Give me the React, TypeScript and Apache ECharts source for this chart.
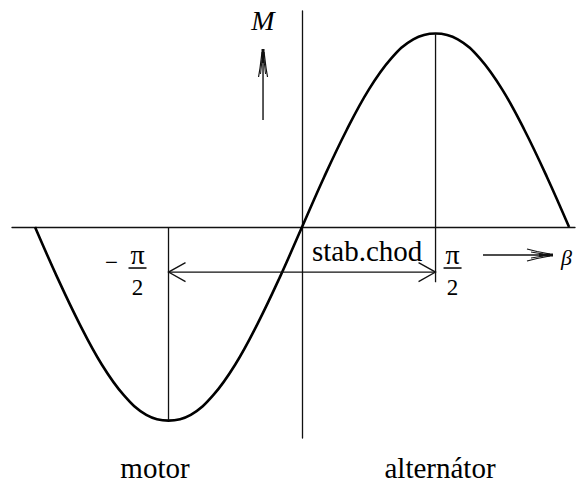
import React, { useEffect, useRef } from "react";
import * as echarts from "echarts";

// Load angle β in degrees and the torque M (normalised to its peak)
const angleDeg = [-180, -165, -150, -135, -120, -105, -90, -75, -60, -45, -30, -15, 0, 15, 30, 45, 60, 75, 90, 105, 120, 135, 150, 165, 180];
const torque = [0, -0.26, -0.5, -0.71, -0.87, -0.97, -1, -0.97, -0.87, -0.71, -0.5, -0.26, 0, 0.26, 0.5, 0.71, 0.87, 0.97, 1, 0.97, 0.87, 0.71, 0.5, 0.26, 0];

// Guide lines at ±π/2 and the stable-operation range arrow
const peakGuideX = [90, 90];
const peakGuideY = [1, -0.285];
const troughGuideX = [-90, -90];
const troughGuideY = [0, -1];
const stableRangeX = [-90, 90];
const stableLevel = -0.233;

const axisMin = { x: -195.5, y: -1.09 };
const axisMax = { x: 184, y: 1.116 };

const INK = "#111";

export default function App() {
  const ref = useRef<HTMLDivElement>(null);

  useEffect(() => {
    if (!ref.current) return;
    const chart = echarts.init(ref.current, undefined, { renderer: "svg" });

    const pair = (xs: number[], ys: number[]) => xs.map((x, i) => [x, ys[i]]);
    const plainLine = (data: number[][], width: number) => ({
      type: "line",
      data,
      symbol: "none",
      silent: true,
      lineStyle: { color: INK, width },
    });

    chart.setOption({
      animation: false,
      backgroundColor: "#fff",
      grid: { left: 12, right: 2, top: 11, bottom: 45 },
      xAxis: {
        type: "value",
        min: axisMin.x,
        max: axisMax.x,
        axisLine: { onZero: true, lineStyle: { color: INK, width: 1.3 } },
        axisTick: { show: false },
        axisLabel: { show: false },
        splitLine: { show: false },
      },
      yAxis: {
        type: "value",
        min: axisMin.y,
        max: axisMax.y,
        axisLine: { show: true, onZero: true, lineStyle: { color: INK, width: 1.3 } },
        axisTick: { show: false },
        axisLabel: { show: false },
        splitLine: { show: false },
      },
      series: [
        {
          type: "line",
          data: pair(angleDeg, torque),
          symbol: "none",
          smooth: 0.4,
          silent: true,
          lineStyle: { color: "#000", width: 2.6 },
        },
        plainLine(pair(peakGuideX, peakGuideY), 1.3),
        plainLine(pair(troughGuideX, troughGuideY), 1.3),
        plainLine(pair(stableRangeX, [stableLevel, stableLevel]), 1.3),
      ],
    });

    // Annotations placed relative to the axis positions
    const px = (x: number, y: number) => chart.convertToPixel({ gridIndex: 0 }, [x, y]) as number[];
    const [lx, ly] = px(stableRangeX[0], stableLevel);
    const [rx, ry] = px(stableRangeX[1], stableLevel);
    const [ox, oy] = px(0, 0);
    const [negX] = px(-90, 0);
    const [posX] = px(90, 0);

    const stroke = (points: number[][], width = 1.3) => ({
      type: "polyline",
      silent: true,
      shape: { points },
      style: { stroke: INK, lineWidth: width, fill: null },
    });
    // y is the vertical centre of the text line; texts are top-anchored,
    // so shift up by half the font size
    const text = (t: string, x: number, y: number, size: number, italic = false, align = "center") => ({
      type: "text",
      x,
      y: y - size / 2,
      style: {
        text: t,
        font: `${italic ? "italic " : ""}${size}px 'Times New Roman'`,
        fill: "#000",
        textAlign: align,
        textBaseline: "middle",
      },
    });
    const fraction = (cx: number) => [
      text("π", cx, oy + 27.5, 28),
      stroke([[cx - 9, oy + 41], [cx + 9, oy + 41]], 1.6),
      text("2", cx, oy + 60, 23),
    ];

    // M arrow (pointing up, left of the vertical axis)
    const mx = ox - 39;
    const mArrow = [
      stroke([[mx, 49], [mx, 120]], 1.4),
      stroke([[mx, 49], [mx, 63]], 3),
      stroke([[mx - 4.5, 77], [mx - 3, 68], [mx - 1, 52]], 1.2),
      stroke([[mx + 4.5, 77], [mx + 3, 68], [mx + 1, 52]], 1.2),
      stroke([[mx - 2.5, 74], [mx - 1, 60]], 1),
      stroke([[mx + 2.5, 74], [mx + 1, 60]], 1),
    ];

    // β arrow (pointing right, below the horizontal axis)
    const by = oy + 28;
    const bTip = 553;
    const bArrow = [
      stroke([[483, by], [bTip, by]], 1.4),
      stroke([[bTip - 14, by], [bTip, by]], 3),
      stroke([[bTip - 26, by - 6], [bTip - 16, by - 3.5], [bTip - 3, by - 1]], 1.2),
      stroke([[bTip - 26, by + 6], [bTip - 16, by + 3.5], [bTip - 3, by + 1]], 1.2),
      stroke([[bTip - 22, by - 3], [bTip - 10, by - 1]], 1),
      stroke([[bTip - 22, by + 3], [bTip - 10, by + 1]], 1),
    ];

    // open arrowheads of the stable-range arrow
    const head = 17;
    const half = 9.5;
    const rangeHeads = [
      stroke([[lx + head, ly - half], [lx, ly], [lx + head, ly + half]], 1.3),
      stroke([[rx - head, ry - half], [rx, ry], [rx - head, ry + half]], 1.3),
    ];

    chart.setOption({
      graphic: [
        ...mArrow,
        ...bArrow,
        ...rangeHeads,
        text("M", mx, 20.5, 28, true),
        text("β", 561, 257.5, 22, true, "left"),
        text("−", negX - 57, oy + 35, 23),
        ...fraction(negX - 31),
        ...fraction(posX + 17),
        text("stab.chod", ox + 10, oy + 24, 29, false, "left"),
        text("motor", 155, 468, 29),
        text("alternátor", 440, 468, 29),
      ],
    });

    return () => chart.dispose();
  }, []);

  return (
    <div
      ref={ref}
      style={{ position: "fixed", left: 0, top: 0, width: 577, height: 483, background: "#fff" }}
    />
  );
}
